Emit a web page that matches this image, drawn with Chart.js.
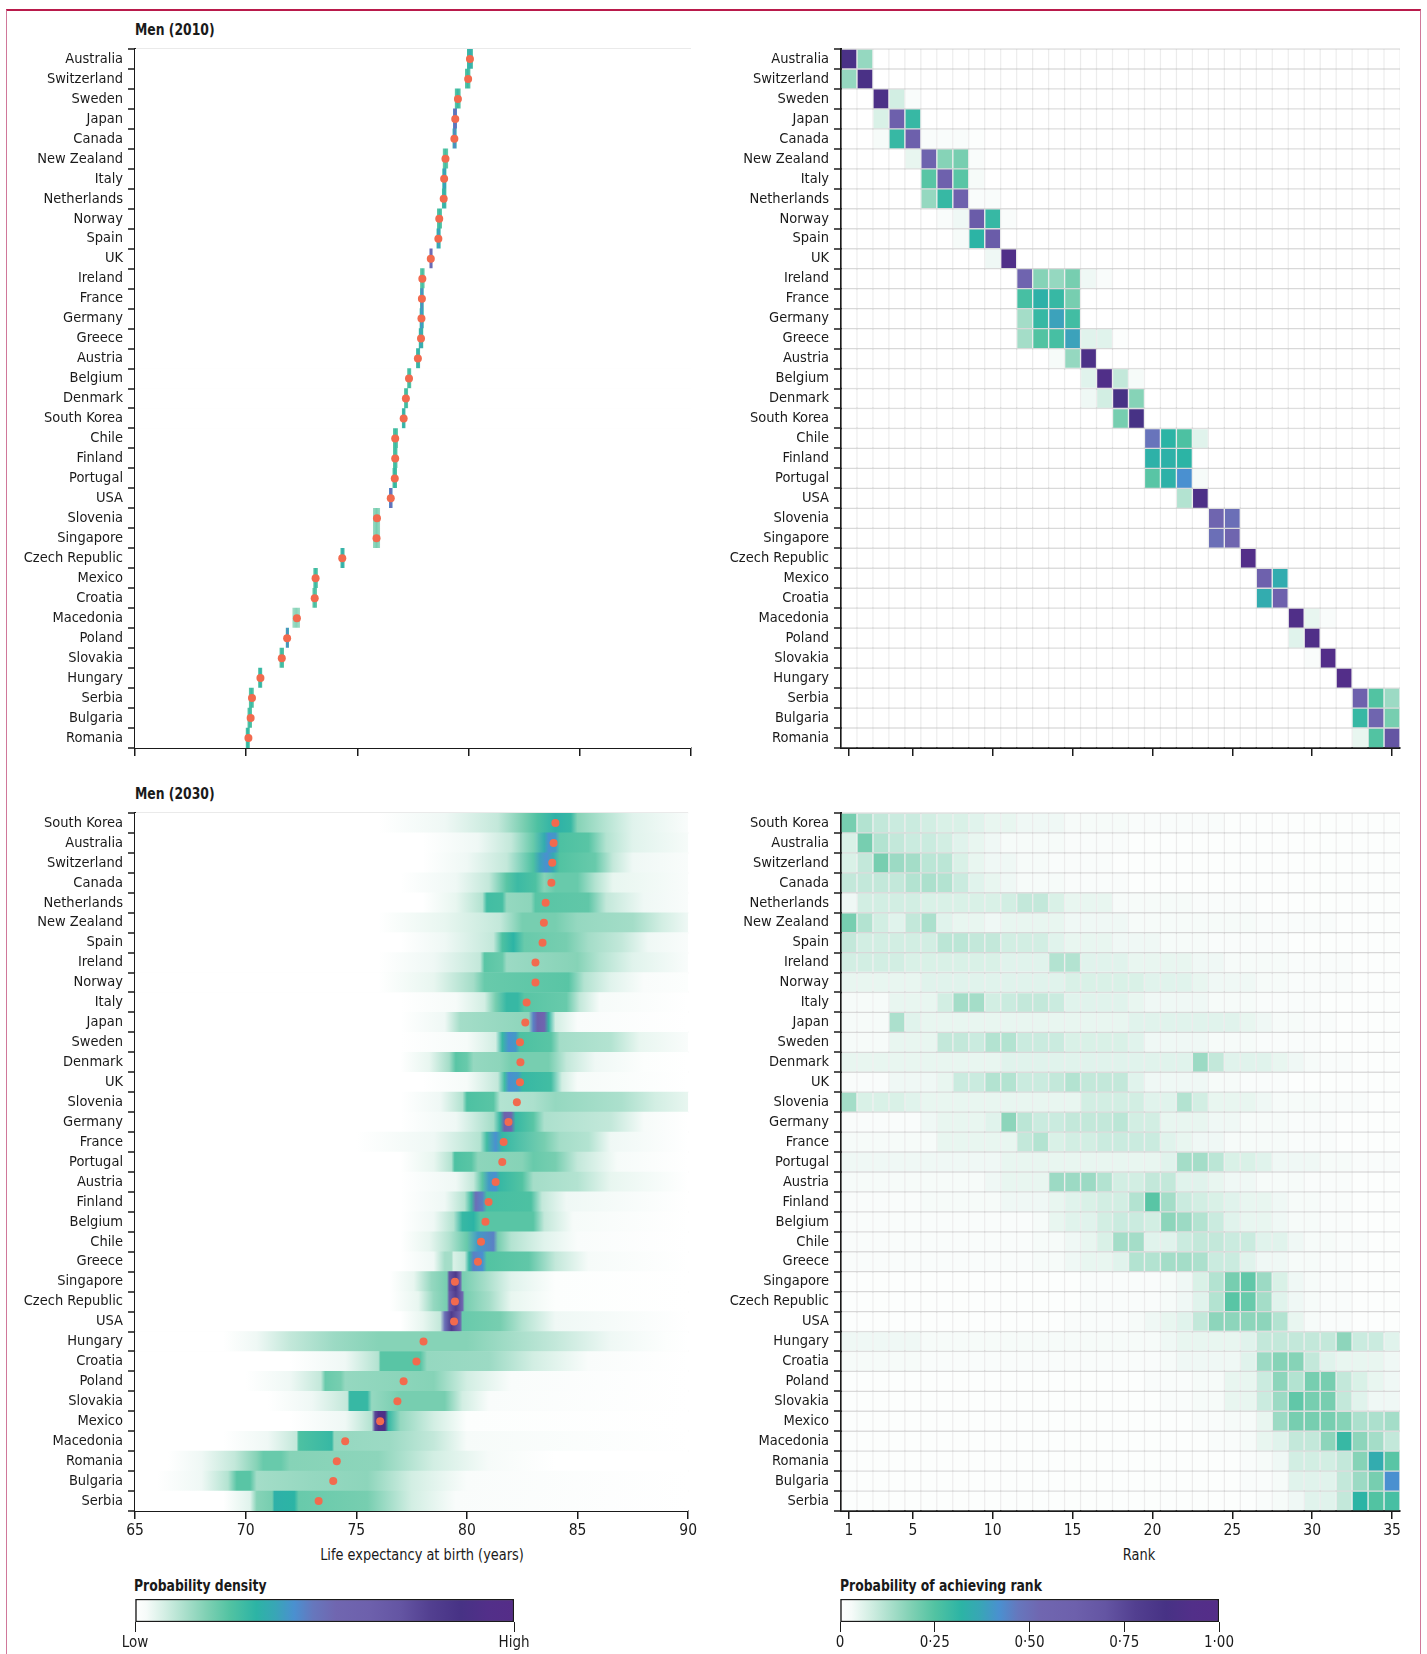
<!DOCTYPE html>
<html>
<head>
<meta charset="utf-8">
<script src="https://cdn.jsdelivr.net/npm/chart.js@4.4.1/dist/chart.umd.min.js"></script>
<style>
  body { margin: 0; background: #fff; width: 1427px; height: 1654px; position: relative; overflow: hidden;
         font-family: 'DejaVu Sans Condensed', 'Liberation Sans', sans-serif; color: #1a1a1a; }
  .frame { position: absolute; left: 6px; top: 9px; width: 1413px; height: 1700px;
           border-top: 2px solid #b91a4b; border-left: 1.5px solid #d0789a; border-right: 1.5px solid #d0789a; }
  canvas { position: absolute; }
  .txt { position: absolute; white-space: nowrap; line-height: 20px; font-size: 16px; transform-origin: 0 50%; transform: scaleX(0.86); }
  .bold { font-weight: bold; }
  .ctr { transform-origin: 50% 50%; transform: translateX(-50%) scaleX(0.9); }
</style>
</head>
<body>
<div class="frame"></div>

<div class="txt bold" style="left:135px;top:20px;">Men (2010)</div>
<div class="txt bold" style="left:135px;top:784px;">Men (2030)</div>
<div class="txt ctr" style="left:422px;top:1545px;">Life expectancy at birth (years)</div>
<div class="txt ctr" style="left:1139px;top:1545px;">Rank</div>
<div class="txt bold" style="left:134px;top:1576px;">Probability density</div>
<div class="txt bold" style="left:840px;top:1576px;">Probability of achieving rank</div>

<canvas id="d2010" width="700" height="770" style="left:0;top:0"></canvas>
<canvas id="r2010" width="727" height="770" style="left:700px;top:0"></canvas>
<canvas id="d2030" width="700" height="800" style="left:0;top:760px"></canvas>
<canvas id="r2030" width="727" height="800" style="left:700px;top:760px"></canvas>
<canvas id="cb1" width="440" height="64" style="left:100px;top:1590px"></canvas>
<canvas id="cb2" width="480" height="64" style="left:770px;top:1590px"></canvas>

<script>
// ---- data ----
const countries2010 = ['Australia','Switzerland','Sweden','Japan','Canada','New Zealand','Italy','Netherlands','Norway','Spain','UK','Ireland','France','Germany','Greece','Austria','Belgium','Denmark','South Korea','Chile','Finland','Portugal','USA','Slovenia','Singapore','Czech Republic','Mexico','Croatia','Macedonia','Poland','Slovakia','Hungary','Serbia','Bulgaria','Romania'];

// posterior mean life expectancy, 2010
const mean2010 = [80.06,79.98,79.52,79.40,79.36,78.96,78.90,78.88,78.68,78.64,78.30,77.92,77.90,77.88,77.86,77.72,77.32,77.18,77.08,76.70,76.70,76.68,76.50,75.88,75.86,74.32,73.12,73.08,72.28,71.84,71.60,70.64,70.26,70.20,70.10];

// narrow density strips 2010: [from, to, density level]
const strip2010 = [[79.95,80.17,0.36],[79.86,80.06,0.3],[79.40,79.62,0.3],[79.32,79.46,0.55],[79.30,79.44,0.45],[78.86,79.06,0.28],[78.84,78.98,0.4],[78.82,78.98,0.35],[78.60,78.78,0.3],[78.58,78.72,0.4],[78.26,78.36,0.6],[77.84,78.00,0.28],[77.84,77.96,0.45],[77.82,77.96,0.42],[77.78,77.94,0.38],[77.66,77.80,0.35],[77.26,77.40,0.3],[77.12,77.26,0.3],[77.02,77.14,0.35],[76.62,76.80,0.3],[76.62,76.78,0.3],[76.60,76.76,0.32],[76.44,76.56,0.55],[75.72,76.00,0.2],[75.72,76.00,0.2],[74.26,74.40,0.35],[73.04,73.20,0.3],[73.00,73.16,0.28],[72.10,72.40,0.18],[71.80,71.90,0.45],[71.52,71.68,0.3],[70.56,70.70,0.33],[70.14,70.32,0.3],[70.08,70.24,0.3],[70.00,70.14,0.32]];

// probability (%) of each rank, 2010: [rank, percent]
const rank2010 = [
  [[1,88],[2,16]], [[1,16],[2,88]], [[3,90],[4,8],[5,2]], [[3,7],[4,62],[5,30]],
  [[3,3],[4,30],[5,62],[6,2],[7,2],[8,2],[9,1]], [[5,5],[6,58],[7,18],[8,20],[9,2]],
  [[6,24],[7,60],[8,24],[9,3]], [[6,16],[7,30],[8,60],[9,2],[10,2]],
  [[7,2],[8,4],[9,65],[10,30],[11,2]], [[8,3],[9,32],[10,65]], [[10,4],[11,92]],
  [[12,56],[13,18],[14,16],[15,20],[16,4],[17,2]], [[12,27],[13,33],[14,30],[15,20]],
  [[12,14],[13,30],[14,38],[15,28]], [[12,14],[13,25],[14,27],[15,38],[16,6],[17,6],[18,1]],
  [[14,3],[15,16],[16,90]], [[16,6],[17,92],[18,10],[19,3]], [[16,4],[17,8],[18,86],[19,18]],
  [[18,20],[19,86]], [[20,48],[21,32],[22,26],[23,6]], [[20,33],[21,33],[22,32]],
  [[20,24],[21,33],[22,42],[23,3]], [[22,12],[23,90]], [[24,55],[25,50]], [[24,50],[25,55]],
  [[26,95]], [[27,60],[28,35]], [[27,35],[28,60]], [[29,92],[30,5],[31,2]], [[29,6],[30,92]],
  [[30,2],[31,95]], [[32,96]], [[33,60],[34,25],[35,15]], [[33,30],[34,55],[35,20]], [[33,5],[34,25],[35,70]]
];

const countries2030 = ['South Korea','Australia','Switzerland','Canada','Netherlands','New Zealand','Spain','Ireland','Norway','Italy','Japan','Sweden','Denmark','UK','Slovenia','Germany','France','Portugal','Austria','Finland','Belgium','Chile','Greece','Singapore','Czech Republic','USA','Hungary','Croatia','Poland','Slovakia','Mexico','Macedonia','Romania','Bulgaria','Serbia'];

const mean2030 = [84.00,83.92,83.86,83.82,83.56,83.48,83.42,83.10,83.10,82.70,82.64,82.40,82.42,82.40,82.26,81.88,81.66,81.60,81.30,80.98,80.84,80.64,80.50,79.46,79.46,79.42,78.04,77.72,77.14,76.86,76.08,74.50,74.12,73.96,73.30];

// density profile 2030: [life expectancy, density level]
const density2030 = [
  [[76,0],[79,0.04],[81.4,0.1],[82.6,0.2],[83.2,0.26],[84,0.33],[84.7,0.3],[85,0.18],[86.2,0.12],[87.5,0.06],[90,0.02]],
  [[78,0],[80.5,0.04],[82,0.1],[83,0.22],[83.5,0.35],[83.7,0.42],[84,0.4],[84.2,0.26],[85.5,0.24],[86.3,0.12],[87.5,0.06],[90,0.03]],
  [[78,0],[80,0.04],[81.8,0.1],[83,0.26],[83.3,0.38],[83.6,0.42],[83.9,0.36],[84.2,0.25],[85.8,0.22],[86.6,0.1],[87.5,0.04],[90,0.02]],
  [[77,0],[79.5,0.04],[81,0.1],[81.8,0.24],[82.3,0.29],[83.1,0.26],[83.5,0.18],[84,0.22],[85,0.22],[85.8,0.12],[86.6,0.05],[90,0.02]],
  [[78,0],[79.5,0.05],[80.7,0.12],[80.9,0.28],[81.6,0.27],[81.8,0.16],[82.9,0.17],[83.1,0.24],[85.5,0.23],[86.3,0.1],[88,0.04],[90,0.02]],
  [[76,0],[79,0.05],[81.5,0.1],[82.5,0.2],[84,0.2],[85,0.16],[87.5,0.14],[88.8,0.08],[90,0.04]],
  [[77,0],[79,0.04],[81.2,0.1],[81.6,0.26],[82.1,0.32],[82.6,0.22],[84.5,0.2],[85.5,0.14],[87,0.1],[88.2,0.04],[90,0.02]],
  [[76,0],[78.5,0.04],[80.6,0.1],[80.8,0.24],[81.6,0.22],[81.8,0.15],[84,0.17],[85,0.18],[86,0.12],[87.5,0.06],[90,0.02]],
  [[76,0],[78.5,0.05],[80.3,0.14],[80.8,0.22],[84.6,0.24],[85.3,0.12],[86.5,0.06],[88,0.02],[90,0.01]],
  [[77,0],[79.5,0.03],[80.8,0.08],[81.3,0.2],[81.8,0.3],[82.3,0.3],[82.6,0.24],[84.5,0.22],[85.1,0.1],[86,0.03],[90,0]],
  [[77,0],[79,0.04],[79.7,0.14],[82.8,0.17],[83,0.45],[83.2,0.62],[83.5,0.55],[83.7,0.3],[84,0.08],[85,0.02],[90,0]],
  [[77,0],[80,0.03],[81.3,0.08],[81.6,0.3],[81.9,0.42],[82.2,0.4],[82.4,0.26],[83.8,0.24],[84.2,0.14],[86.5,0.12],[87.8,0.05],[90,0.02]],
  [[77,0],[78.3,0.05],[79.2,0.14],[79.5,0.24],[80,0.22],[80.3,0.16],[81.5,0.17],[82,0.2],[83.7,0.2],[84.5,0.1],[85.8,0.04],[88,0.01],[90,0]],
  [[78,0],[80,0.03],[81.4,0.1],[81.7,0.28],[81.9,0.42],[82.3,0.4],[82.5,0.3],[83.8,0.28],[84.3,0.08],[85,0.03],[90,0]],
  [[77,0],[78.8,0.04],[79.8,0.12],[80,0.26],[81.2,0.24],[81.5,0.12],[83,0.13],[84,0.16],[87,0.13],[88.5,0.08],[90,0.05]],
  [[77,0],[79.5,0.04],[81.2,0.14],[81.5,0.3],[81.7,0.6],[82,0.55],[82.2,0.3],[83,0.24],[83.5,0.13],[86.5,0.1],[88,0.03],[90,0]],
  [[75,0],[78.5,0.04],[80.6,0.12],[80.9,0.28],[81.3,0.42],[81.6,0.3],[83.5,0.2],[84.2,0.14],[85.5,0.12],[86.5,0.04],[90,0]],
  [[77,0],[78.5,0.05],[79.3,0.12],[79.45,0.26],[80.2,0.24],[80.5,0.17],[82.5,0.18],[83,0.22],[84,0.2],[85,0.1],[86.8,0.03],[90,0]],
  [[77,0],[79.5,0.04],[80.3,0.1],[80.7,0.24],[81,0.4],[81.3,0.42],[81.5,0.3],[82.5,0.25],[83,0.14],[85,0.12],[86.5,0.05],[90,0]],
  [[77,0],[79,0.04],[79.9,0.12],[80.2,0.28],[80.4,0.5],[80.7,0.45],[80.9,0.27],[82.9,0.26],[83.4,0.1],[84.5,0.04],[90,0]],
  [[77,0],[78.5,0.04],[79.4,0.12],[79.8,0.3],[80.3,0.32],[80.6,0.24],[83,0.24],[83.5,0.1],[84.8,0.03],[90,0]],
  [[77,0],[78.3,0.05],[79.2,0.12],[80,0.22],[80.5,0.4],[81.2,0.45],[81.4,0.2],[82,0.12],[83.5,0.06],[85,0.02],[90,0]],
  [[77,0],[78.5,0.04],[79,0.14],[79.3,0.14],[79.4,0.07],[79.9,0.1],[80.1,0.3],[80.3,0.45],[80.7,0.42],[80.9,0.25],[82.8,0.23],[84,0.1],[85.5,0.03],[90,0]],
  [[76.5,0],[77.6,0.05],[78.4,0.16],[79.1,0.2],[79.2,0.7],[79.5,0.82],[79.7,0.6],[79.8,0.2],[80.8,0.14],[82,0.06],[84,0.01],[90,0]],
  [[76.5,0],[77.8,0.05],[78.5,0.16],[79.1,0.2],[79.2,0.65],[79.5,0.78],[79.8,0.55],[79.9,0.2],[81,0.14],[82,0.05],[84,0.01],[90,0]],
  [[77,0],[78,0.05],[78.8,0.1],[79,0.5],[79.3,0.8],[79.7,0.6],[79.8,0.22],[81.5,0.2],[82.5,0.12],[84,0.04],[90,0]],
  [[69,0],[70.5,0.04],[72,0.1],[74,0.15],[76,0.18],[80,0.18],[82,0.14],[84,0.1],[86.5,0.04],[89,0.01],[90,0]],
  [[72,0],[74.5,0.04],[76,0.12],[76.1,0.24],[77.9,0.24],[78.2,0.16],[81,0.15],[83,0.08],[85.5,0.02],[90,0]],
  [[70,0],[72,0.04],[73.4,0.1],[73.6,0.22],[74.3,0.2],[74.5,0.16],[78.5,0.18],[80,0.08],[82,0.02],[90,0]],
  [[71,0],[73,0.04],[74.6,0.1],[74.7,0.3],[75.5,0.3],[75.7,0.16],[77,0.2],[79,0.2],[79.8,0.08],[81,0.02],[90,0]],
  [[72,0],[74.5,0.04],[75.7,0.12],[75.85,0.75],[76,0.92],[76.3,0.9],[76.45,0.3],[77,0.16],[78.5,0.08],[80,0.01],[90,0]],
  [[69,0],[71,0.04],[72.3,0.1],[72.4,0.26],[73.9,0.3],[74,0.16],[76.5,0.15],[78.5,0.1],[80,0.03],[90,0]],
  [[66.5,0],[68,0.04],[69.5,0.1],[70.5,0.18],[70.8,0.22],[71.6,0.22],[72,0.18],[76,0.17],[78.5,0.08],[81,0.03],[84,0],[90,0]],
  [[66,0],[68,0.04],[69.2,0.12],[69.6,0.24],[70.2,0.24],[70.5,0.14],[73,0.16],[75.5,0.17],[77.5,0.08],[80,0.02],[90,0]],
  [[69,0],[70.2,0.06],[70.5,0.18],[71.2,0.2],[71.3,0.33],[72.2,0.32],[72.4,0.22],[75.5,0.2],[77.5,0.08],[79.5,0.02],[90,0]]
];

// probability (%) of achieving rank 1..35, 2030
const rank2030 = [
  [20,12,10,9,9,8,7,7,6,5,5,4,4,4,3,3,3,3,2,2,2,2,2,2,1,1,1,1,1,1,1,1,1,1,1],
  [7,20,12,10,9,9,8,6,5,4,3,3,3,3,2,2,2,2,1,1,1,1,1,1,1,1,1,1,1,1,1,1,1,1,1],
  [7,10,20,15,14,11,11,7,5,4,4,3,3,2,2,2,2,1,1,1,1,1,1,1,1,1,1,1,1,1,1,1,1,1,1],
  [10,10,10,10,12,13,12,9,6,5,4,3,3,3,2,2,2,2,1,1,1,1,1,1,1,1,1,1,1,1,1,1,1,1,1],
  [4,8,8,8,8,7,7,7,7,7,8,10,10,7,5,5,5,3,3,3,3,3,2,2,2,2,1,1,1,1,1,1,1,1,1],
  [20,12,8,6,10,13,6,5,5,4,5,5,5,5,4,4,4,4,3,3,3,3,3,3,3,3,2,2,2,2,2,1,1,1,1],
  [10,8,8,8,8,8,11,11,10,10,8,8,8,6,5,5,5,4,4,4,3,3,3,2,2,2,2,2,1,1,1,1,1,1,1],
  [8,8,8,8,7,7,7,7,7,7,6,6,6,12,12,6,6,6,5,5,5,5,4,4,3,3,3,3,2,2,2,2,1,1,1],
  [5,5,5,5,5,6,6,6,6,6,6,6,6,6,7,7,7,7,7,6,6,6,5,4,4,4,3,3,2,2,2,2,1,1,1],
  [3,3,3,5,5,5,8,14,14,8,9,10,10,9,6,6,6,6,5,4,4,4,4,3,3,3,2,2,2,2,1,1,1,1,1],
  [3,3,3,13,6,5,5,5,5,5,5,5,5,5,5,5,5,5,6,6,6,6,6,6,6,5,4,3,3,2,2,1,1,1,1],
  [3,3,3,5,5,5,10,10,9,12,12,9,9,9,7,7,7,7,6,4,4,4,4,3,3,3,2,2,2,2,1,1,1,1,1],
  [5,5,5,5,5,5,5,5,5,5,6,6,6,6,6,6,6,6,6,6,6,6,15,10,6,6,6,5,4,3,2,2,1,1,1],
  [2,2,2,4,4,4,5,9,9,12,12,9,9,10,12,10,10,10,6,4,4,4,4,3,3,2,2,2,1,1,1,1,1,1,1],
  [14,7,7,7,6,5,5,5,5,5,5,5,5,5,5,8,8,8,8,6,6,12,8,5,5,5,4,3,3,3,2,2,2,1,1],
  [2,2,2,2,2,4,5,5,5,6,17,11,9,9,10,10,10,11,8,8,5,5,5,4,4,3,3,3,2,2,2,1,1,1,1],
  [3,3,3,3,3,3,5,5,5,5,5,10,12,7,8,8,9,9,9,9,6,5,4,4,3,3,3,3,2,2,2,1,1,1,1],
  [4,4,4,4,4,4,4,4,4,4,5,5,5,5,5,5,5,5,5,5,6,14,14,11,7,7,6,4,4,4,3,3,2,2,2],
  [3,3,3,3,3,3,3,3,3,4,5,5,5,15,15,15,12,8,8,10,10,6,6,5,4,4,3,3,3,2,2,2,1,1,1],
  [2,2,2,2,2,3,3,3,3,3,4,4,4,5,6,7,8,8,12,24,14,9,8,7,6,5,5,4,3,3,2,2,1,1,1],
  [2,2,2,2,2,2,2,2,2,2,2,2,3,5,6,6,8,9,9,8,17,15,12,9,6,5,5,4,3,3,2,2,1,1,1],
  [2,2,2,2,2,2,2,2,2,2,2,2,3,3,4,5,7,14,14,6,6,9,10,10,9,9,6,6,4,3,3,2,2,1,1],
  [2,2,2,2,2,2,2,2,2,2,2,2,3,3,4,5,5,6,12,12,14,14,13,9,9,6,4,4,3,3,2,2,1,1,1],
  [1,1,1,1,1,1,1,1,1,1,1,1,1,1,1,2,2,2,2,2,3,4,7,12,20,23,15,7,4,3,2,2,1,1,1],
  [1,1,1,1,1,1,1,1,1,1,1,1,1,1,1,2,2,2,2,2,3,4,6,12,24,22,14,6,4,3,2,2,1,1,1],
  [1,1,1,1,1,1,1,1,1,1,1,1,1,1,2,2,2,2,3,4,5,6,10,17,17,17,17,12,5,3,2,2,1,1,1],
  [4,4,4,4,4,3,3,3,3,3,3,3,3,3,3,3,3,3,3,3,4,5,5,5,5,6,10,10,10,10,10,17,9,9,6],
  [3,3,3,3,3,2,2,2,2,2,2,2,2,2,2,2,2,2,2,2,3,4,4,4,4,6,15,18,18,10,6,5,5,5,4],
  [1,1,1,1,1,1,1,1,1,1,1,1,1,1,1,1,1,1,1,2,2,2,3,3,5,5,9,17,12,20,20,10,7,5,4],
  [1,1,1,1,1,1,1,1,1,1,1,1,1,1,1,1,1,1,1,1,2,2,3,3,5,5,9,15,23,20,20,10,6,4,4],
  [1,1,1,1,1,1,1,1,1,1,1,1,1,1,1,1,1,1,1,1,1,1,2,2,3,3,5,15,20,20,20,18,13,13,14],
  [1,1,1,1,1,1,1,1,1,1,1,1,1,1,1,1,1,1,1,1,1,1,1,2,2,3,5,6,10,10,17,30,17,14,10],
  [1,1,1,1,1,1,1,1,1,1,1,1,1,1,1,1,1,1,1,1,1,1,1,1,1,2,3,4,8,8,8,10,18,35,24],
  [1,1,1,1,1,1,1,1,1,1,1,1,1,1,1,1,1,1,1,1,1,1,1,1,1,2,2,3,6,6,6,10,15,20,42],
  [1,1,1,1,1,1,1,1,1,1,1,1,1,1,1,1,1,1,1,1,1,1,1,1,1,1,2,3,4,6,6,10,32,25,27]
];

const lifeTicks = [65, 70, 75, 80, 85, 90];
const rankTicks = [1, 5, 10, 15, 20, 25, 30, 35];
const densityTicks = [0, 1];
const densityTickLabels = ['Low', 'High'];
const probTicks = [0, 0.25, 0.5, 0.75, 1];
const probTickLabels = ['0', '0·25', '0·50', '0·75', '1·00'];

// ---- colour scale ----
const cmap = [
  [0.00,'#ffffff'],[0.03,'#f6fbf9'],[0.08,'#d2eee3'],[0.14,'#a4ddc8'],[0.19,'#7ed0b3'],
  [0.25,'#52c3a2'],[0.32,'#2cb4a5'],[0.37,'#38a6b6'],[0.42,'#4a90d0'],[0.47,'#6677bd'],
  [0.53,'#7066b0'],[0.62,'#6d60ac'],[0.70,'#6455a3'],[0.78,'#523f90'],[0.86,'#473285'],
  [0.93,'#522f89'],[1.00,'#552d88']
];
function hexRgb(h) { return [1,3,5].map(i => parseInt(h.slice(i, i + 2), 16)); }
function colourAt(t) {
  t = Math.max(0, Math.min(1, t));
  for (let i = 1; i < cmap.length; i++) {
    if (t <= cmap[i][0]) {
      const [t0, c0] = cmap[i - 1], [t1, c1] = cmap[i];
      const f = (t - t0) / (t1 - t0), a = hexRgb(c0), b = hexRgb(c1);
      return 'rgb(' + a.map((v, k) => Math.round(v + (b[k] - v) * f)).join(',') + ')';
    }
  }
  return cmap[cmap.length - 1][1];
}

Chart.defaults.font.family = "'DejaVu Sans Condensed', 'Liberation Sans', sans-serif";
Chart.defaults.font.size = 15;
Chart.defaults.color = '#1a1a1a';

// horizontal gradient across a row, stops placed through the x scale
function rowGradient(ctx, knots) {
  const chart = ctx.chart;
  if (!chart.chartArea) return 'rgba(0,0,0,0)';
  const xs = chart.scales.x;
  const x0 = xs.getPixelForValue(xs.min), x1 = xs.getPixelForValue(xs.max);
  const g = chart.ctx.createLinearGradient(x0, 0, x1, 0);
  knots.forEach(([v, l]) => {
    const p = (xs.getPixelForValue(v) - x0) / (x1 - x0);
    g.addColorStop(Math.max(0, Math.min(1, p)), colourAt(l));
  });
  return g;
}

function yAxis(width) {
  return {
    type: 'category', offset: true, z: 1,
    afterFit: s => { s.width = width; },
    ticks: { autoSkip: false, padding: 5, color: '#1a1a1a', font: { size: 14.5 } },
    grid: { offset: true, drawOnChartArea: true, color: 'rgba(232,232,232,0.9)', lineWidth: 2,
            tickColor: '#1a1a1a', tickLength: 7, tickWidth: 1.5 },
    border: { display: true, color: '#1a1a1a', width: 2 }
  };
}

function xAxis(min, max, tickVals, height, showLabels) {
  return {
    type: 'linear', min, max,
    afterBuildTicks: s => { s.ticks = tickVals.map(v => ({ value: v })); },
    afterFit: s => { s.height = height; },
    ticks: { display: showLabels, autoSkip: false, maxRotation: 0, padding: 3, color: '#1a1a1a', font: { size: 15.5 } },
    grid: { drawOnChartArea: false, drawTicks: true, tickLength: 8, color: '#1a1a1a', lineWidth: 1.5 },
    border: { display: true, color: '#1a1a1a', width: 2 }
  };
}

function densityChart(id, labels, means, knots, padTop, xHeight, showLabels) {
  return new Chart(document.getElementById(id), {
    type: 'bar',
    data: {
      labels,
      datasets: [
        { type: 'scatter', data: labels.map((c, i) => ({ x: means[i], y: c })),
          backgroundColor: '#f26a4e', borderWidth: 0, pointRadius: 4, order: 0 },
        { type: 'bar', data: labels.map(() => [65, 90]),
          backgroundColor: ctx => rowGradient(ctx, knots[ctx.dataIndex]),
          barPercentage: 1, categoryPercentage: 1, borderWidth: 0, order: 1 }
      ]
    },
    options: {
      indexAxis: 'y', responsive: false, animation: false,
      layout: { padding: { top: padTop, right: 9, left: 0, bottom: 0 } },
      plugins: { legend: { display: false }, tooltip: { enabled: false } },
      scales: { x: xAxis(65, 90, lifeTicks, xHeight, showLabels), y: yAxis(135) }
    }
  });
}

function rankChart(id, labels, probs, padTop, xHeight, showLabels) {
  const datasets = probs[0].map((_, r) => ({
    data: labels.map(() => [r + 0.5, r + 1.5]),
    backgroundColor: labels.map((c, i) => colourAt(probs[i][r] / 100)),
    borderColor: 'rgba(140,140,140,0.12)', borderWidth: 1, borderSkipped: false,
    barPercentage: 1, categoryPercentage: 1, grouped: false
  }));
  return new Chart(document.getElementById(id), {
    type: 'bar',
    data: { labels, datasets },
    options: {
      indexAxis: 'y', responsive: false, animation: false,
      layout: { padding: { top: padTop, right: 27, left: 0, bottom: 0 } },
      plugins: { legend: { display: false }, tooltip: { enabled: false } },
      scales: { x: xAxis(0.5, 35.5, rankTicks, xHeight, showLabels), y: yAxis(141) }
    }
  });
}

// 2010 strips turned into gradient knots
const knots2010 = strip2010.map(([a, b, l]) => [[a - 0.04, 0], [a, l * 0.8], [(a + b) / 2, l], [b, l * 0.8], [b + 0.04, 0]]);

// 2010 rank cells expanded to a full 35-column table
const probs2010 = rank2010.map(cells => {
  const row = new Array(rank2030[0].length).fill(0);
  cells.forEach(([r, p]) => { row[r - 1] = p; });
  return row;
});

densityChart('d2010', countries2010, mean2010, knots2010, 49, 22, false);
rankChart('r2010', countries2010, probs2010, 49, 22, false);
densityChart('d2030', countries2030, mean2030, density2030, 53, 49, true);
rankChart('r2030', countries2030, rank2030, 53, 49, true);

function colourBar(id, ticks, tickLabels, padLeft, padRight) {
  return new Chart(document.getElementById(id), {
    type: 'bar',
    data: { labels: [''], datasets: [{
      data: [[0, 1]],
      backgroundColor: ctx => rowGradient(ctx, cmap.map(([t]) => [t, t])),
      borderColor: '#1a1a1a', borderWidth: 1.5, borderSkipped: false,
      barPercentage: 1, categoryPercentage: 1
    }] },
    options: {
      indexAxis: 'y', responsive: false, animation: false,
      layout: { padding: { top: 9, left: padLeft, right: padRight, bottom: 0 } },
      plugins: { legend: { display: false }, tooltip: { enabled: false } },
      scales: {
        y: { display: false },
        x: { type: 'linear', min: 0, max: 1,
             afterBuildTicks: s => { s.ticks = ticks.map(v => ({ value: v })); },
             afterFit: s => { s.height = 32; },
             ticks: { callback: (v, i) => tickLabels[i], padding: 2, maxRotation: 0, autoSkip: false, color: '#1a1a1a', font: { size: 15 } },
             grid: { drawOnChartArea: false, tickLength: 10, color: '#1a1a1a', lineWidth: 1 },
             border: { display: false } }
      }
    }
  });
}
colourBar('cb1', densityTicks, densityTickLabels, 35, 26);
colourBar('cb2', probTicks, probTickLabels, 70, 31);
</script>
</body>
</html>
